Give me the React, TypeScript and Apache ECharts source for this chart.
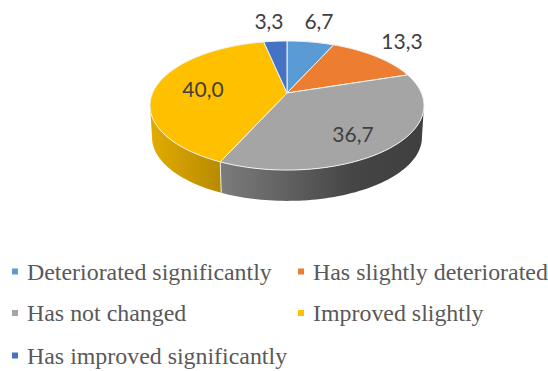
import React, { useEffect, useRef } from "react";
import * as echarts from "echarts";

const categories = [
  "Deteriorated significantly",
  "Has slightly deteriorated",
  "Has not changed",
  "Improved slightly",
  "Has improved significantly",
];
const values = [6.7, 13.3, 36.7, 40.0, 3.3];
const valueLabels = ["6,7", "13,3", "36,7", "40,0", "3,3"];
const colors = ["#5B9BD5", "#ED7D31", "#A5A5A5", "#FFC000", "#4472C4"];

// layout (not data)
const CX = 287, CY = 93, A = 62.1, D = 134.4, C = 0.194;
const DEPTH = 32, BOTTOM_SCALE = 0.985;
const labelPos = [[319, 20], [402, 40], [353, 133], [203, 88], [269, 20]];
const legendPos = [[12, 271.5], [298, 271.5], [12, 313], [298, 313], [12, 355.5]];
const sideStops: any = {
  2: [[0, "#7C7C7C"], [0.65, "#454545"], [1, "#3F3F3F"]],
  3: [[0, "#E2AC00"], [1, "#B78A00"]],
};
const SIL_A = (101 / 180) * Math.PI;
const SIL_B = (259 / 180) * Math.PI;

const total = values.reduce((a, b) => a + b, 0);
const bounds = (i: number) => {
  const s = values.slice(0, i).reduce((a, b) => a + b, 0);
  return [(s / total) * Math.PI * 2, ((s + values[i]) / total) * Math.PI * 2];
};
const project = (t: number, scale = 1, off = 0) => {
  const u = Math.sin(t), v = -Math.cos(t), w = 1 - C * v;
  return [CX + (scale * D * u) / w, CY + off + (scale * A * v) / w];
};
const arc = (a: number, b: number, scale = 1, off = 0) => {
  const n = Math.max(4, Math.ceil(((b - a) / (Math.PI * 2)) * 240));
  const pts: number[][] = [];
  for (let k = 0; k <= n; k++) pts.push(project(a + ((b - a) * k) / n, scale, off));
  return pts;
};

const sideSeries = {
  type: "custom",
  name: "side",
  coordinateSystem: "none",
  silent: true,
  z: 1,
  data: values.map((v, i) => [v, i]),
  renderItem: (params: any) => {
    const i = params.dataIndex;
    if (!sideStops[i]) return { type: "group", children: [] };
    let [a, b] = bounds(i);
    a = Math.max(a, SIL_A);
    b = Math.min(b, SIL_B);
    const top = arc(a, b);
    const bottom = arc(a, b, BOTTOM_SCALE, DEPTH).reverse();
    const p0 = project(a);
    const p1 = project(a, BOTTOM_SCALE, DEPTH);
    const children: any[] = [
      {
        type: "polygon",
        shape: { points: top.concat(bottom) },
        style: {
          fill: {
            type: "linear", x: 0, y: 0, x2: 1, y2: 0,
            colorStops: sideStops[i].map((s: any) => ({ offset: s[0], color: s[1] })),
          },
        },
      },
    ];
    if (a > SIL_A) {
      children.push({
        type: "line",
        z2: 5,
        shape: { x1: p0[0], y1: p0[1], x2: p1[0], y2: p1[1] },
        style: { stroke: "#E8E8E8", lineWidth: 1 },
      });
    }
    return { type: "group", children };
  },
};

const topSeries = categories.map((name, i) => ({
  type: "custom",
  name,
  coordinateSystem: "none",
  silent: true,
  z: 2 + i,
  itemStyle: { color: colors[i] },
  data: [[values[i], i]],
  renderItem: () => {
    const [a, b] = bounds(i);
    return {
      type: "group",
      children: [
        {
          type: "polygon",
          shape: { points: [[CX, CY] as number[]].concat(arc(a, b)) },
          style: { fill: colors[i], stroke: "#F2F2F2", lineWidth: 1 },
        },
        {
          type: "text",
          z2: 10,
          style: {
            text: valueLabels[i],
            x: labelPos[i][0],
            y: labelPos[i][1],
            align: "center",
            verticalAlign: "middle",
            fill: "#404040",
            font: "21px Lato",
          },
        },
      ],
    };
  },
}));

export default function App() {
  const ref = useRef<HTMLDivElement>(null);
  useEffect(() => {
    document.body.style.margin = "0";
    const chart = echarts.init(ref.current!, null, { renderer: "svg" });
    chart.setOption({
      animation: false,
      backgroundColor: "#FFFFFF",
      legend: categories.map((name, i) => ({
        data: [{ name, icon: "rect" }],
        left: legendPos[i][0],
        top: legendPos[i][1] - 14,
        padding: 0,
        itemWidth: 6,
        itemHeight: 6,
        selectedMode: false,
        textStyle: {
          fontFamily: "Liberation Serif",
          fontSize: 23.9,
          color: "#595959",
          padding: [0, 0, 0, 4],
          height: 28,
          lineHeight: 28,
        },
      })),
      series: [sideSeries, ...topSeries],
    });
    return () => chart.dispose();
  }, []);
  return <div ref={ref} style={{ width: 548, height: 371 }} />;
}
